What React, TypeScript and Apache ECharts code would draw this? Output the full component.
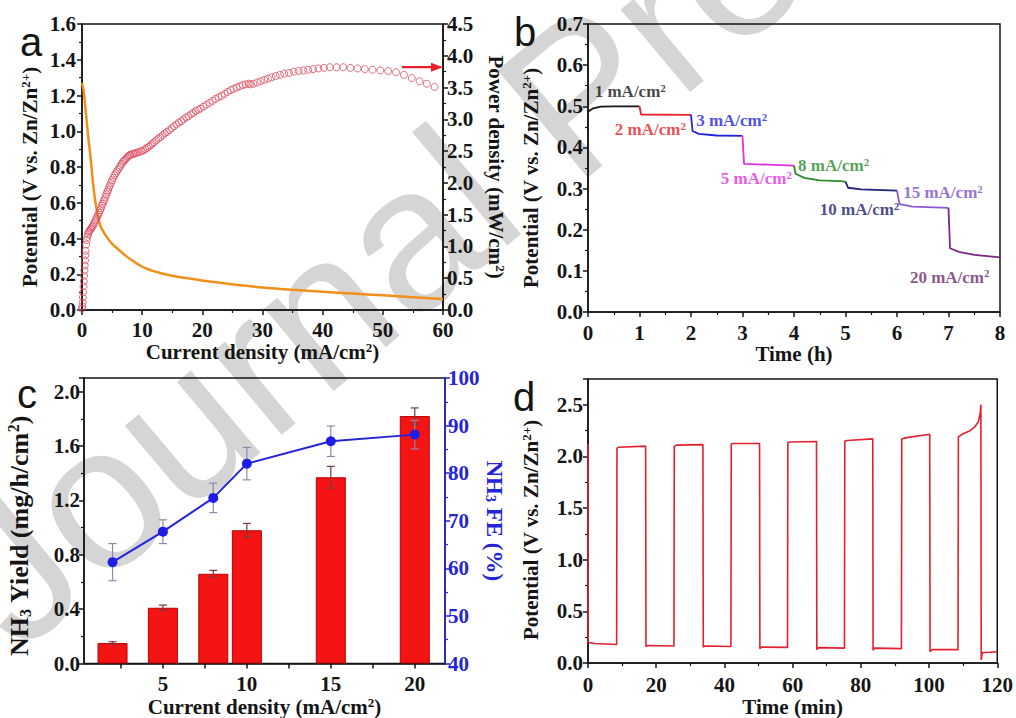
import React, { useEffect, useRef } from 'react';
import * as echarts from 'echarts';

// ---------- Panel a: polarization & power density ----------
const aPotential: number[][] = [
  [0, 1.27], [0.2, 1.24], [0.4, 1.19], [0.6, 1.12], [0.8, 1.05], [1.0, 0.98], [1.2, 0.92], [1.4, 0.86],
  [1.6, 0.79], [1.8, 0.72], [2.0, 0.66], [2.2, 0.61], [2.5, 0.55], [2.8, 0.5], [3.2, 0.46], [3.7, 0.43],
  [4.3, 0.4], [5, 0.37], [6, 0.34], [7, 0.31], [8, 0.285], [9, 0.262], [10, 0.242], [11, 0.228],
  [12, 0.216], [13, 0.207], [14, 0.199], [15, 0.192], [17, 0.18], [20, 0.165], [23, 0.152], [26, 0.14],
  [30, 0.126], [35, 0.113], [40, 0.102], [45, 0.092], [50, 0.082], [55, 0.072], [60, 0.062],
];
const aPower: number[][] = [
  [0, 0.02], [0.05, 0.06], [0.1, 0.12], [0.15, 0.2], [0.2, 0.28], [0.25, 0.37], [0.3, 0.45], [0.35, 0.54],
  [0.4, 0.62], [0.45, 0.7], [0.5, 0.78], [0.55, 0.86], [0.6, 0.93], [0.7, 1.03], [0.8, 1.1], [0.9, 1.15],
  [1.0, 1.19], [1.1, 1.22], [1.2, 1.24], [1.35, 1.26], [1.5, 1.28], [1.65, 1.3], [1.8, 1.32], [1.95, 1.35],
  [2.1, 1.38], [2.25, 1.41], [2.4, 1.44], [2.55, 1.47], [2.7, 1.5], [2.85, 1.53], [3.0, 1.57], [3.15, 1.6],
  [3.3, 1.64], [3.45, 1.67], [3.6, 1.71], [3.75, 1.74], [3.9, 1.78], [4.05, 1.82], [4.2, 1.86], [4.35, 1.89],
  [4.5, 1.93], [4.65, 1.96], [4.8, 2.0], [5.0, 2.04], [5.2, 2.08], [5.4, 2.12], [5.6, 2.15], [5.8, 2.18],
  [6.0, 2.21], [6.2, 2.24], [6.4, 2.27], [6.6, 2.3], [6.8, 2.33], [7.0, 2.35], [7.2, 2.37], [7.4, 2.39],
  [7.6, 2.41], [7.8, 2.43], [8.0, 2.44], [8.25, 2.45], [8.5, 2.46], [8.75, 2.46], [9.0, 2.47], [9.3, 2.48],
  [9.6, 2.49], [9.9, 2.5], [10.2, 2.51], [10.5, 2.53], [10.8, 2.55], [11.1, 2.57], [11.4, 2.59], [11.7, 2.62],
  [12.0, 2.64], [12.35, 2.67], [12.7, 2.7], [13.05, 2.72], [13.4, 2.75], [13.75, 2.78], [14.1, 2.8], [14.5, 2.83],
  [14.9, 2.86], [15.3, 2.89], [15.7, 2.92], [16.1, 2.95], [16.5, 2.97], [16.9, 3.0], [17.3, 3.03], [17.7, 3.05],
  [18.1, 3.08], [18.5, 3.1], [18.9, 3.13], [19.3, 3.15], [19.7, 3.17], [20.2, 3.2], [20.7, 3.23], [21.2, 3.26],
  [21.7, 3.29], [22.2, 3.32], [22.7, 3.35], [23.2, 3.37], [23.7, 3.4], [24.2, 3.43], [24.7, 3.46], [25.2, 3.48],
  [25.7, 3.5], [26.2, 3.52], [26.7, 3.54], [27.2, 3.55], [27.7, 3.56], [28.0, 3.55], [28.5, 3.56], [29.1, 3.58],
  [29.7, 3.6], [30.3, 3.62], [30.9, 3.64], [31.5, 3.66], [32.2, 3.68], [32.9, 3.7], [33.6, 3.72], [34.4, 3.73],
  [35.2, 3.75], [36.0, 3.76], [36.8, 3.77], [37.6, 3.78], [38.4, 3.79], [39.3, 3.8], [40.2, 3.81], [41.2, 3.82],
  [42.3, 3.82], [43.4, 3.82], [44.6, 3.81], [45.8, 3.8], [47.0, 3.79], [48.3, 3.78], [49.6, 3.77], [50.9, 3.76],
  [52.2, 3.74], [53.5, 3.7], [54.8, 3.65], [56.1, 3.6], [57.3, 3.56], [58.6, 3.51],
];
const aArrow: number[][] = [[53.2, 3.82], [59.0, 3.82]];

// ---------- Panel b: rate steps ----------
const bRates = ['1', '2', '3', '5', '8', '10', '15', '20'];
const bColors = ['#151515', '#e8202a', '#2222e0', '#e030e0', '#2a8a2a', '#22227a', '#8a58d8', '#7a2a80'];
const bTextColors = ['#151515', '#e8202a', '#2222e0', '#e030e0', '#2a8a2a', '#1a1a70', '#7a50c8', '#6a2a6a'];
const bSegments: number[][][] = [
  [[0, 0.487], [0.1, 0.495], [0.25, 0.499], [0.5, 0.5], [1.0, 0.5]],
  [[1.0, 0.5], [1.03, 0.48], [2.0, 0.479]],
  [[2.0, 0.479], [2.03, 0.44], [2.15, 0.433], [2.5, 0.429], [3.0, 0.428]],
  [[3.0, 0.428], [3.03, 0.36], [3.5, 0.358], [4.0, 0.356]],
  [[4.0, 0.356], [4.03, 0.336], [4.2, 0.326], [4.5, 0.32], [4.9, 0.318], [5.0, 0.317]],
  [[5.0, 0.317], [5.05, 0.302], [5.3, 0.298], [6.0, 0.295]],
  [[6.0, 0.295], [6.05, 0.262], [6.3, 0.256], [7.0, 0.253]],
  [[7.0, 0.253], [7.03, 0.155], [7.2, 0.146], [7.5, 0.139], [8.0, 0.133]],
];
const bLabelAnchors: number[][] = [
  [0.13, 0.535], [0.52, 0.443], [2.1, 0.465], [2.58, 0.324],
  [4.08, 0.355], [4.5, 0.248], [6.12, 0.29], [6.25, 0.085],
];

// ---------- Panel c: NH3 yield & FE ----------
const cCurrent = [2, 5, 8, 10, 15, 20];
const cYield = [0.15, 0.41, 0.66, 0.98, 1.37, 1.82];
const cYieldErr = [0.01, 0.02, 0.025, 0.05, 0.08, 0.06];
const cFE = [61.3, 67.7, 74.8, 82.0, 86.7, 88.1];
const cFEErr = [3.9, 2.5, 3.1, 3.4, 3.2, 3.0];
const cXLabels = [5, 10, 15, 20];
const cXTicks = [2.5, 5, 7.5, 10, 12.5, 15, 17.5, 20];

// ---------- Panel d: cycling ----------
const dCycle: number[][] = [
  [0, 2.12], [0.05, 0.2], [2, 0.19], [8.4, 0.18],
  [8.5, 2.08], [9, 2.09], [16.9, 2.1],
  [17.0, 0.16], [17.5, 0.17], [25.2, 0.165],
  [25.3, 2.1], [26, 2.11], [33.7, 2.115],
  [33.8, 0.155], [34.2, 0.165], [41.9, 0.16],
  [42.0, 2.12], [42.5, 2.125], [50.3, 2.125],
  [50.4, 0.14], [50.8, 0.155], [58.5, 0.152],
  [58.6, 2.135], [59.2, 2.14], [67.0, 2.145],
  [67.1, 0.13], [67.5, 0.15], [75.2, 0.145],
  [75.3, 2.15], [76, 2.155], [83.5, 2.17],
  [83.6, 0.125], [84, 0.145], [91.9, 0.14],
  [92.0, 2.17], [93, 2.18], [100.2, 2.215],
  [100.3, 0.11], [100.8, 0.13], [108.5, 0.13],
  [108.6, 2.19], [110, 2.22], [112, 2.25], [113.5, 2.29], [114.5, 2.34], [115.0, 2.42], [115.2, 2.5],
  [115.3, 0.03], [115.6, 0.1], [120, 0.11],
];

const SERIF = '"Liberation Serif", "DejaVu Serif", serif';
const SANS = '"Liberation Sans", Arial, sans-serif';
const INK = '#151515';
const BLUE = '#2424d8';

const richSup = (color: string, size: number) => ({
  base: { fontFamily: SERIF, fontWeight: 'bold', fontSize: size, color },
  sup: { fontFamily: SERIF, fontWeight: 'bold', fontSize: Math.round(size * 0.6), color, verticalAlign: 'top', padding: [0, 0, Math.round(size * 0.45), 0] },
  sub: { fontFamily: SERIF, fontWeight: 'bold', fontSize: Math.round(size * 0.6), color, verticalAlign: 'bottom', padding: [Math.round(size * 0.35), 0, 0, 0] },
});

function valueAxis(opts: any) {
  const color = opts.color || INK;
  return {
    type: 'value',
    gridIndex: opts.grid,
    position: opts.position,
    min: opts.min,
    max: opts.max,
    interval: opts.interval,
    name: opts.name,
    nameLocation: 'middle',
    nameGap: opts.nameGap,
    nameRotate: opts.nameRotate,
    nameTextStyle: {
      fontFamily: SERIF, fontWeight: 'bold', fontSize: opts.nameSize || 21, color,
      padding: opts.namePad || 0,
      rich: richSup(color, opts.nameSize || 21),
    },
    axisLine: { show: true, onZero: false, lineStyle: { color, width: 1.5 } },
    axisTick: { show: true, inside: false, length: 5, lineStyle: { color, width: 1.5 }, customValues: opts.tickValues },
    minorTick: { show: opts.minor !== false, splitNumber: 2, length: 3, lineStyle: { color, width: 1.2 } },
    splitLine: { show: false },
    axisLabel: {
      fontFamily: SERIF, fontWeight: 'bold', fontSize: 21, color, margin: opts.margin ?? 6,
      showMaxLabel: opts.showMax,
      customValues: opts.labelValues,
      formatter: opts.formatter,
    },
  };
}

const fmt1 = (v: number) => v.toFixed(1);

// watermark geometry (screen px): anchor, angle, size
const WM_SIZE = 204;
const WM_ANGLE = 40;
const WM_X = 39;
const WM_Y = 679;

export default function App() {
  const ref = useRef<HTMLDivElement>(null);
  useEffect(() => {
    if (!ref.current) return;
    const chart = echarts.init(ref.current, undefined, { renderer: 'svg' });

    const errData = (xs: number[], vs: number[], es: number[]) => xs.map((x, i) => [x, vs[i] - es[i], vs[i] + es[i]]);
    const errSeries = (data: number[][], yAxisIndex: number, color: string, z: number) => ({
      type: 'custom', xAxisIndex: 2, yAxisIndex, z, silent: true,
      encode: { x: 0, y: [1, 2] },
      data,
      renderItem: (_p: any, api: any) => {
        const x = api.value(0);
        const t = api.coord([x, api.value(2)]);
        const b = api.coord([x, api.value(1)]);
        const w = 4;
        const st = { stroke: color, lineWidth: 1.2 };
        return {
          type: 'group',
          children: [
            { type: 'line', shape: { x1: t[0], y1: t[1], x2: b[0], y2: b[1] }, style: st },
            { type: 'line', shape: { x1: t[0] - w, y1: t[1], x2: t[0] + w, y2: t[1] }, style: st },
            { type: 'line', shape: { x1: b[0] - w, y1: b[1], x2: b[0] + w, y2: b[1] }, style: st },
          ],
        };
      },
    });

    const option: any = {
      animation: false,
      backgroundColor: '#ffffff',
      textStyle: { fontFamily: SERIF },
      grid: [
        { left: 82, top: 24, width: 361, height: 286, show: true, borderColor: INK, borderWidth: 1.5, backgroundColor: 'transparent' },
        { left: 588, top: 24, width: 412, height: 288, show: true, borderColor: INK, borderWidth: 1.5, backgroundColor: 'transparent' },
        { left: 84, top: 378, width: 361, height: 286, show: true, borderColor: INK, borderWidth: 1.5, backgroundColor: 'transparent' },
        { left: 588, top: 379, width: 412, height: 285, show: true, borderColor: INK, borderWidth: 1.5, backgroundColor: 'transparent' },
      ],
      xAxis: [
        valueAxis({ grid: 0, min: 0, max: 60, interval: 10, name: 'Current density (mA/cm{sup|2})', nameGap: 29, margin: 9 }),
        valueAxis({ grid: 1, min: 0, max: 8, interval: 1, name: 'Time (h)', nameGap: 29, margin: 10 }),
        valueAxis({ grid: 2, min: 0.3, max: 21.8, name: 'Current density (mA/cm{sup|2})', nameGap: 32, margin: 10,
          labelValues: cXLabels, tickValues: cXTicks, minor: false }),
        valueAxis({ grid: 3, min: 0, max: 120, interval: 20, name: 'Time (min)', nameGap: 25, margin: 11 }),
      ],
      yAxis: [
        valueAxis({ grid: 0, position: 'left', min: 0, max: 1.6, interval: 0.2, formatter: fmt1,
          name: 'Potential (V vs. Zn/Zn{sup|2+})', nameGap: 41, nameSize: 21, namePad: [0, 20, 0, 0] }),
        valueAxis({ grid: 0, position: 'right', min: 0, max: 4.5, interval: 0.5, formatter: fmt1,
          name: 'Power density (mW/cm{sup|2})', nameGap: 42, nameRotate: -90, nameSize: 21, margin: 4 }),
        valueAxis({ grid: 1, position: 'left', min: 0, max: 0.7, interval: 0.1, formatter: fmt1,
          name: 'Potential (V vs. Zn/Zn{sup|2+})', nameGap: 46, nameSize: 21, margin: 5, namePad: [0, 20, 0, 0] }),
        valueAxis({ grid: 2, position: 'left', min: 0, max: 2.1, interval: 0.4, formatter: fmt1, showMax: false,
          name: 'NH{sub|3} Yield (mg/h/cm{sup|2})', nameGap: 51, nameSize: 26, margin: 4, namePad: [0, 30, 0, 0] }),
        valueAxis({ grid: 2, position: 'right', min: 40, max: 100, interval: 10, color: BLUE,
          name: 'NH{sub|3} FE (%)', nameGap: 36, nameRotate: -90, nameSize: 23, margin: 3 }),
        valueAxis({ grid: 3, position: 'left', min: 0, max: 2.75, interval: 0.5, formatter: fmt1, showMax: false,
          name: 'Potential (V vs. Zn/Zn{sup|2+})', nameGap: 46, nameSize: 21, margin: 5, namePad: [0, 18, 0, 0] }),
      ],
      graphic: {
        elements: [
          {
            type: 'text', x: WM_X, y: WM_Y, rotation: (WM_ANGLE * Math.PI) / 180, z: -10, silent: true,
            style: { text: 'Journal Pre-proof', font: `${WM_SIZE}px ${SANS}`, fill: '#d5d5d5', align: 'left', verticalAlign: 'bottom' },
          },
          { type: 'text', left: 20, top: 22, style: { text: 'a', font: `40px ${SANS}`, fill: INK } },
          { type: 'text', left: 514, top: 12, style: { text: 'b', font: `40px ${SANS}`, fill: INK } },
          { type: 'text', left: 17, top: 374, style: { text: 'c', font: `40px ${SANS}`, fill: INK } },
          { type: 'text', left: 513, top: 377, style: { text: 'd', font: `40px ${SANS}`, fill: INK } },
        ],
      },
      series: [
        // Panel a
        {
          type: 'line', xAxisIndex: 0, yAxisIndex: 0, data: aPotential, showSymbol: false, smooth: 0.3, z: 3,
          lineStyle: { color: '#f0901a', width: 2.5 },
        },
        {
          type: 'scatter', xAxisIndex: 0, yAxisIndex: 1, data: aPower, symbol: 'circle', symbolSize: 7, z: 4,
          itemStyle: { color: 'rgba(255,255,255,0)', borderColor: '#dc4a5e', borderWidth: 1 },
        },
        {
          type: 'line', xAxisIndex: 0, yAxisIndex: 1, data: aArrow, showSymbol: false, z: 5,
          lineStyle: { color: '#e8202a', width: 2 },
          markLine: {
            silent: true, symbol: ['none', 'triangle'], symbolSize: [9, 12], label: { show: false },
            lineStyle: { color: '#e8202a', width: 2, type: 'solid' },
            data: [[{ coord: aArrow[0] }, { coord: aArrow[1] }]],
          },
        },
        // Panel b
        ...bSegments.map((seg, i) => ({
          type: 'line', xAxisIndex: 1, yAxisIndex: 2, data: seg, showSymbol: false, z: 3,
          lineStyle: { color: bColors[i], width: 1.8 },
        })),
        {
          type: 'scatter', xAxisIndex: 1, yAxisIndex: 2, symbolSize: 0, z: 6, silent: true,
          data: bLabelAnchors.map((p) => ({ value: p })),
          label: {
            show: true, position: 'right', distance: 0,
            formatter: (p: any) => `{c${p.dataIndex}|${bRates[p.dataIndex]} mA/cm}{s${p.dataIndex}|2}`,
            rich: Object.fromEntries(bTextColors.flatMap((c, i) => [
              [`c${i}`, { fontFamily: SERIF, fontWeight: 'bold', fontSize: 17, color: c }],
              [`s${i}`, { fontFamily: SERIF, fontWeight: 'bold', fontSize: 11, color: c, verticalAlign: 'top', padding: [0, 0, 8, 0] }],
            ])),
          },
        },
        // Panel c
        {
          type: 'bar', xAxisIndex: 2, yAxisIndex: 3, barWidth: 30, z: 2,
          data: cCurrent.map((x, i) => [x, cYield[i]]),
          itemStyle: { color: '#f51414', borderColor: '#b80000', borderWidth: 1 },
        },
        errSeries(errData(cCurrent, cYield, cYieldErr), 3, '#7a3a3a', 3),
        errSeries(errData(cCurrent, cFE, cFEErr), 4, '#8a8aa8', 3),
        {
          type: 'line', xAxisIndex: 2, yAxisIndex: 4, z: 5,
          data: cCurrent.map((x, i) => [x, cFE[i]]),
          symbol: 'circle', symbolSize: 10,
          lineStyle: { color: BLUE, width: 2 }, itemStyle: { color: '#1e1ee6' },
        },
        // Panel d
        {
          type: 'line', xAxisIndex: 3, yAxisIndex: 5, data: dCycle, showSymbol: false, z: 3,
          lineStyle: { color: '#e3202e', width: 1.6 },
        },
      ],
    };
    chart.setOption(option);
    return () => chart.dispose();
  }, []);
  return <div ref={ref} style={{ position: 'absolute', left: 0, top: 0, width: 1016, height: 718 }} />;
}
